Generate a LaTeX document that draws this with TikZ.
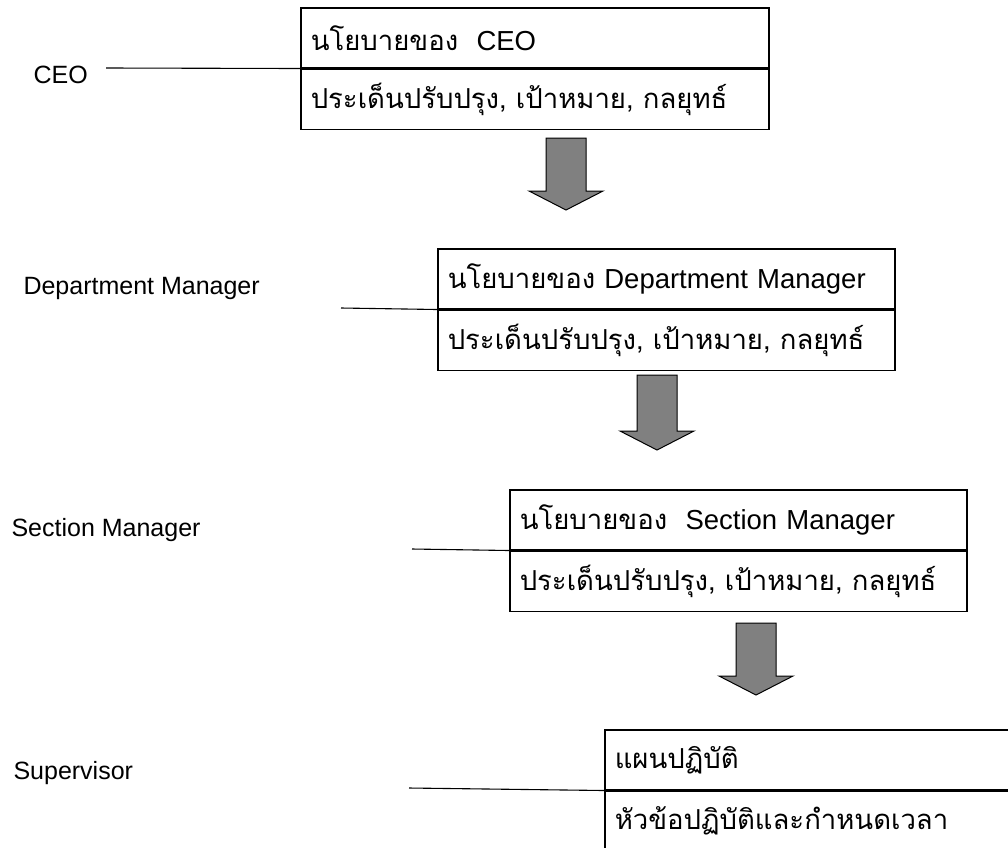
\documentclass[tikz,border=0pt]{standalone}
\usepackage{fontspec}
\setmainfont{Liberation Sans}
\newfontfamily\thaifont[Script=Thai]{Loma}
\usetikzlibrary{positioning}
\definecolor{arrowgray}{RGB}{128,128,128}

\tikzset{
	row/.style={draw=black,line width=1.5pt,anchor=north west,minimum height=60pt,
		inner xsep=10pt,inner ysep=0pt,text width=#1pt,align=left,
		font=\fontsize{27.5}{30}\selectfont},
	lbl/.style={anchor=west,font=\fontsize{25}{28}\selectfont},
	link/.style={line width=1.1pt},
	blockarrow/.style={draw=black,line width=1pt,fill=arrowgray}
}

\begin{document}
\begin{tikzpicture}[x=1pt,y=-1pt]
			\useasboundingbox (0,0) rectangle (1008,847);
			\clip (0,0) rectangle (1008,847);
			
			\node[row=448] (pol1) at (300,7) {\mbox{{\thaifont นโยบายของ}\ \ CEO}};
			\node[row=448] (iss1) at (pol1.south west) {\mbox{\thaifont ประเด็นปรับปรุง, เป้าหมาย, กลยุทธ์}};
			\node[row=437] (pol2) at (437,248) {\mbox{{\thaifont นโยบายของ} Department Manager}};
			\node[row=437] (iss2) at (pol2.south west) {\mbox{\thaifont ประเด็นปรับปรุง, เป้าหมาย, กลยุทธ์}};
			\node[row=437] (pol3) at (509,489) {\mbox{{\thaifont นโยบายของ}\ \ Section Manager}};
			\node[row=437] (iss3) at (pol3.south west) {\mbox{\thaifont ประเด็นปรับปรุง, เป้าหมาย, กลยุทธ์}};
			\node[row=460] (plan4) at (604,729) {\mbox{\thaifont แผนปฏิบัติ}};
			\node[row=460] (act4) at (plan4.south west) {\mbox{\thaifont หัวข้อปฏิบัติและกำหนดเวลา}};
			
			\node[lbl] (ceo) at (30,75) {CEO};
			\node[lbl] (dept) at (20,288) {Department Manager};
			\node[lbl] (sect) at (8,530) {Section Manager};
			\node[lbl] (sup) at (10,773) {Supervisor};
			
			\coordinate (c1) at (106,68);
			\coordinate (c2) at (341,308);
			\coordinate (c3) at (412,549);
			\coordinate (c4) at (409,788);
			
			\draw[link] (c1) -- (iss1.north west);
			\draw[link] (c2) -- (iss2.north west);
			\draw[link] (c3) -- (iss3.north west);
			\draw[link] (c4) -- (act4.north west);
			
			\foreach \x/\t/\b in {566/138/210, 657/375/450, 756/623/695} {
				\draw[blockarrow] ({\x-20},\t) -- ({\x+20},\t) -- ({\x+20},{\b-19}) -- ({\x+37},{\b-19})
					-- (\x,\b) -- ({\x-37},{\b-19}) -- ({\x-20},{\b-19}) -- cycle;
			}
		\end{tikzpicture}
\end{document}
